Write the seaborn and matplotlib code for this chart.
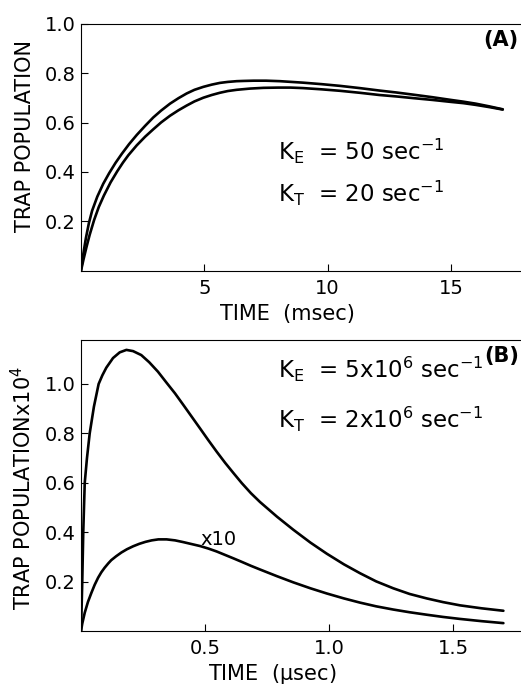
import matplotlib
matplotlib.use("Agg")
import matplotlib.pyplot as plt
import seaborn as sns
import pandas as pd

# ---- panel A: trap population vs time (msec) ----
a_time_upper = [0.0, 0.05, 0.12, 0.2, 0.32, 0.45, 0.66, 0.9, 1.14, 1.4, 1.65, 1.95,
                2.26, 2.6, 2.93, 3.25, 3.61, 3.95, 4.28, 4.6, 4.96, 5.3, 5.63, 5.95,
                6.31, 6.6, 7.0, 7.5, 8.07, 9.0, 9.75, 10.5, 11.3, 12.1, 12.8, 13.5,
                14.25, 15.0, 15.5, 16.0, 16.55, 17.1]
a_pop_upper = [0.0, 0.038, 0.085, 0.133, 0.193, 0.243, 0.300, 0.352, 0.395, 0.437, 0.473, 0.513,
               0.550, 0.587, 0.621, 0.649, 0.677, 0.699, 0.718, 0.733, 0.745, 0.754, 0.761, 0.765,
               0.768, 0.769, 0.770, 0.770, 0.768, 0.762, 0.756, 0.749, 0.740, 0.730, 0.722, 0.713,
               0.703, 0.692, 0.685, 0.677, 0.666, 0.654]

a_time_lower = [0.0, 0.1, 0.22, 0.35, 0.53, 0.72, 0.93, 1.2, 1.47, 1.7, 1.92, 2.26,
                2.6, 2.93, 3.25, 3.61, 3.95, 4.28, 4.6, 4.96, 5.3, 5.63, 5.95, 6.31,
                6.85, 7.4, 8.0, 8.5, 9.0, 9.75, 10.5, 11.3, 12.1, 12.8, 13.5, 14.25,
                15.0, 15.5, 16.0, 16.55, 17.1]
a_pop_lower = [0.0, 0.045, 0.095, 0.145, 0.205, 0.258, 0.305, 0.358, 0.403, 0.438, 0.468, 0.508,
               0.543, 0.573, 0.601, 0.628, 0.650, 0.669, 0.686, 0.701, 0.712, 0.721, 0.728, 0.733,
               0.738, 0.741, 0.742, 0.742, 0.740, 0.735, 0.729, 0.721, 0.712, 0.706, 0.699, 0.692,
               0.684, 0.679, 0.672, 0.663, 0.653]

# ---- panel B: trap population x10^4 vs time (usec) ----
b_time_upper = [0.0, 0.005, 0.009, 0.015, 0.024, 0.035, 0.052, 0.071, 0.086, 0.102,
                0.129, 0.156, 0.183, 0.21, 0.243, 0.275, 0.31, 0.345, 0.379, 0.412,
                0.446, 0.48, 0.513, 0.547, 0.581, 0.615, 0.648, 0.685, 0.722, 0.79,
                0.856, 0.925, 0.991, 1.06, 1.125, 1.19, 1.259, 1.325, 1.394, 1.46,
                1.528, 1.615, 1.703]
b_pop_upper = [0.0, 0.20, 0.40, 0.60, 0.70, 0.80, 0.908, 1.00, 1.035, 1.066,
               1.105, 1.128, 1.138, 1.133, 1.117, 1.088, 1.050, 1.005, 0.962, 0.916,
               0.868, 0.820, 0.773, 0.726, 0.681, 0.639, 0.599, 0.558, 0.522, 0.463,
               0.410, 0.358, 0.313, 0.270, 0.234, 0.201, 0.173, 0.150, 0.132, 0.117,
               0.104, 0.092, 0.082]

b_time_lower = [0.0, 0.005, 0.015, 0.028, 0.042, 0.055, 0.069, 0.082, 0.095, 0.11,
                0.122, 0.142, 0.163, 0.185, 0.21, 0.235, 0.26, 0.285, 0.312, 0.345,
                0.379, 0.412, 0.446, 0.48, 0.513, 0.547, 0.581, 0.615, 0.648, 0.685,
                0.722, 0.79, 0.856, 0.925, 0.991, 1.06, 1.125, 1.19, 1.259, 1.325,
                1.394, 1.46, 1.528, 1.615, 1.703]
b_pop_lower = [0.0, 0.03, 0.074, 0.118, 0.155, 0.187, 0.216, 0.238, 0.256, 0.274,
               0.287, 0.303, 0.318, 0.331, 0.343, 0.353, 0.361, 0.367, 0.371, 0.371,
               0.367, 0.360, 0.352, 0.344, 0.334, 0.322, 0.308, 0.294, 0.280, 0.264,
               0.249, 0.222, 0.197, 0.173, 0.152, 0.132, 0.115, 0.100, 0.087, 0.076,
               0.066, 0.057, 0.049, 0.040, 0.032]

a_xticks = [5, 10, 15]
a_xticklabels = ["5", "10", "15"]
b_xticks = [0.5, 1.0, 1.5]
b_xticklabels = ["0.5", "1.0", "1.5"]
a_yticks = [0.2, 0.4, 0.6, 0.8, 1.0]
a_yticklabels = ["0.2", "0.4", "0.6", "0.8", "1.0"]
b_yticks = [0.2, 0.4, 0.6, 0.8, 1.0]
b_yticklabels = ["0.2", "0.4", "0.6", "0.8", "1.0"]

sns.set_style("ticks")
plt.rcParams["font.family"] = ["DejaVu Sans"]
plt.rcParams["mathtext.default"] = "regular"
plt.rcParams["text.color"] = "black"
plt.rcParams["axes.labelcolor"] = "black"
plt.rcParams["xtick.color"] = "black"
plt.rcParams["ytick.color"] = "black"

fig = plt.figure(figsize=(5.21, 6.88), dpi=100)
ax_a = fig.add_axes([0.1555, 0.6066, 0.8445, 0.3586])
ax_b = fig.add_axes([0.1555, 0.0828, 0.8445, 0.4230])

line_kw = dict(color="black", linewidth=1.9, estimator=None, sort=False, legend=False,
               solid_joinstyle="round", solid_capstyle="round")

for t, p in [(a_time_upper, a_pop_upper), (a_time_lower, a_pop_lower)]:
    sns.lineplot(data=pd.DataFrame({"t": t, "p": p}), x="t", y="p", ax=ax_a, **line_kw)
for t, p in [(b_time_upper, b_pop_upper), (b_time_lower, b_pop_lower)]:
    sns.lineplot(data=pd.DataFrame({"t": t, "p": p}), x="t", y="p", ax=ax_b, **line_kw)

ax_a.set_xlim(0, 17.84)
ax_a.set_ylim(0, 1.0)
ax_b.set_xlim(0, 1.774)
ax_b.set_ylim(0, 1.178)

for ax, xt, xtl, yt, ytl in [(ax_a, a_xticks, a_xticklabels, a_yticks, a_yticklabels),
                              (ax_b, b_xticks, b_xticklabels, b_yticks, b_yticklabels)]:
    ax.set_xticks(xt)
    ax.set_xticklabels(xtl)
    ax.set_yticks(yt)
    ax.set_yticklabels(ytl)
    ax.tick_params(direction="in", length=5, width=0.8, labelsize=14, colors="black")
    ax.tick_params(axis="x", pad=6)
    ax.tick_params(axis="y", pad=4)
    ax.spines["right"].set_visible(False)
    for s in ["left", "bottom", "top"]:
        ax.spines[s].set_linewidth(0.8)
        ax.spines[s].set_color("black")

ax_a.set_xlabel("TIME  (msec)", fontsize=15)
ax_a.set_ylabel("TRAP POPULATION", fontsize=15)
ax_a.xaxis.set_label_coords(0.47, -0.135)
ax_a.yaxis.set_label_coords(-0.105, 0.544)

ax_b.set_xlabel("TIME  ($\\mu$sec)", fontsize=15)
ax_b.set_ylabel("TRAP POPULATIONx10$^{4}$", fontsize=15)
ax_b.xaxis.set_label_coords(0.434, -0.105)
ax_b.yaxis.set_label_coords(-0.105, 0.49)

# rate constants and panel tags
ax_a.text(7.99, 0.448, "K$_{E}$  = 50 sec$^{-1}$", fontsize=16.5, va="baseline")
ax_a.text(7.99, 0.278, "K$_{T}$  = 20 sec$^{-1}$", fontsize=16.5, va="baseline")
ax_a.text(16.3, 0.91, "(A)", fontsize=15, fontweight="bold", va="baseline")

ax_b.text(0.794, 1.024, "K$_{E}$  = 5x10$^{6}$ sec$^{-1}$", fontsize=16.5, va="baseline")
ax_b.text(0.794, 0.822, "K$_{T}$  = 2x10$^{6}$ sec$^{-1}$", fontsize=16.5, va="baseline")
ax_b.text(1.624, 1.089, "(B)", fontsize=15, fontweight="bold", va="baseline")
ax_b.text(0.48, 0.348, "x10", fontsize=14, va="baseline")

fig.savefig("out.png", dpi=100)
